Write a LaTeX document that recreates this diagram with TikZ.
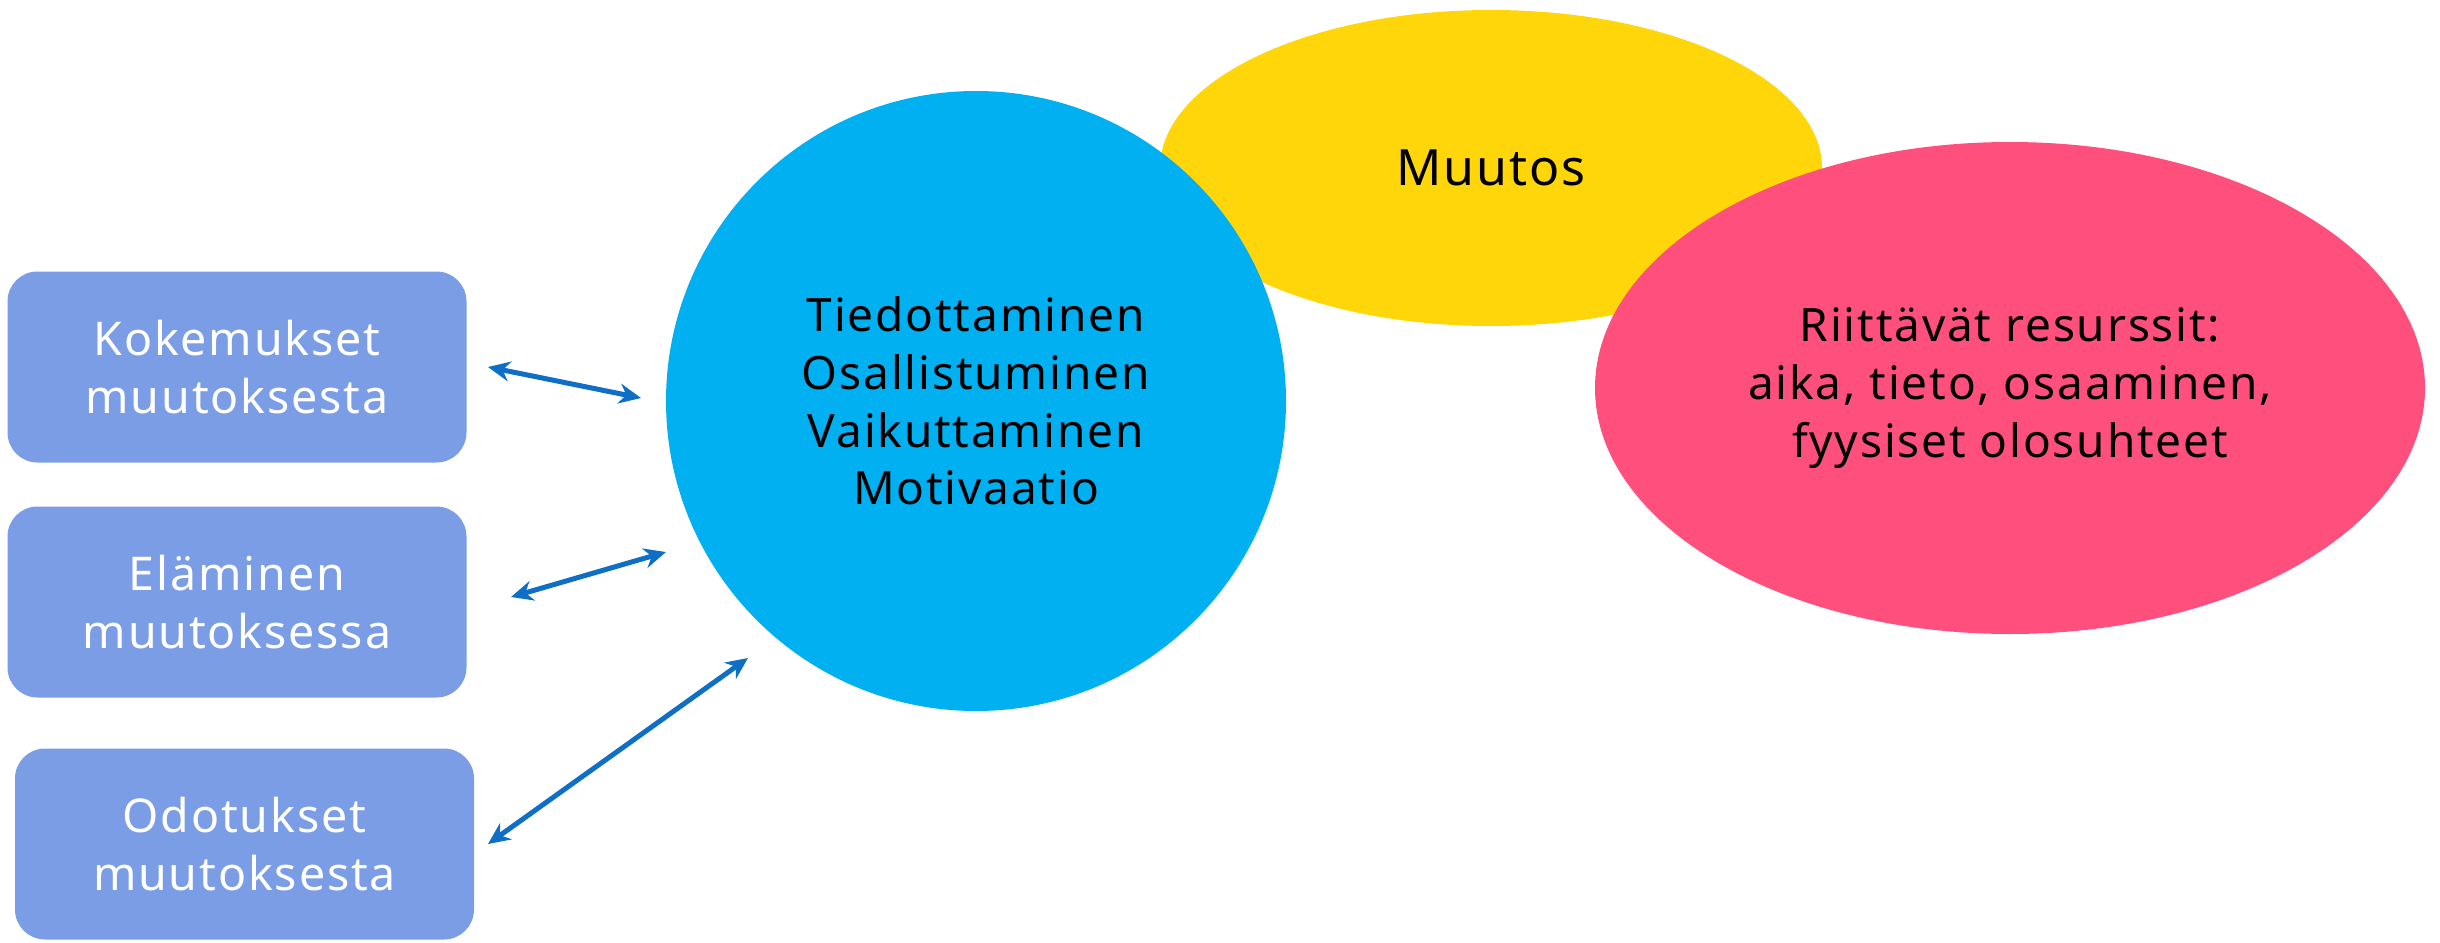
\documentclass[tikz,border=0pt]{standalone}
\usepackage{fontspec}
\setmainfont{Noto Sans}[LetterSpace=4]
\usetikzlibrary{arrows.meta,shapes.geometric}
\definecolor{boxblue}{HTML}{7B9DE6}
\definecolor{cyanc}{HTML}{00B0F0}
\definecolor{yell}{HTML}{FFD60A}
\definecolor{pinkc}{HTML}{FF507D}
\definecolor{arrc}{HTML}{0F6FC6}
\begin{document}
\begin{tikzpicture}[x=1pt,y=-1pt,
  txt/.style={font=\fontsize{46}{57.6}\selectfont, align=center, inner sep=0pt},
  box/.style={txt, font=\fontsize{46.5}{57.6}\selectfont, fill=boxblue, rounded corners=30pt, minimum width=459pt, minimum height=191pt, text=white},
  blob/.style={txt, ellipse, text=black},
  link/.style={draw=arrc, line width=5pt, {Stealth[length=22pt,width=20pt]}-{Stealth[length=22pt,width=20pt]}}]
\useasboundingbox (0,0) rectangle (2440,942);
\node[box] (b1) at (237,367) {Kokemukset\\muutoksesta};
\node[box] (b2) at (237,602) {Eläminen\\muutoksessa};
\node[box] (b3) at (244.5,844) {Odotukset\\muutoksesta};
\node[blob, font=\fontsize{50}{57.6}\selectfont, fill=yell, minimum width=662pt, minimum height=316pt] (muutos) at (1491,168) {Muutos};
\node[blob, circle, fill=cyanc, minimum size=620pt] (center) at (976,401) {Tiedottaminen\\Osallistuminen\\Vaikuttaminen\\Motivaatio};
\node[blob, fill=pinkc, minimum width=830pt, minimum height=492pt] (res) at (2010,388) {Riittävät resurssit:\\aika, tieto, osaaminen,\\fyysiset olosuhteet};
\coordinate (a1s) at (488,367); \coordinate (a1e) at (641,398);
\coordinate (a2s) at (511,597); \coordinate (a2e) at (666,552);
\coordinate (a3s) at (488,844); \coordinate (a3e) at (748,658);
\draw[link] (a1s) -- (a1e);
\draw[link] (a2s) -- (a2e);
\draw[link] (a3s) -- (a3e);
\end{tikzpicture}
\end{document}
